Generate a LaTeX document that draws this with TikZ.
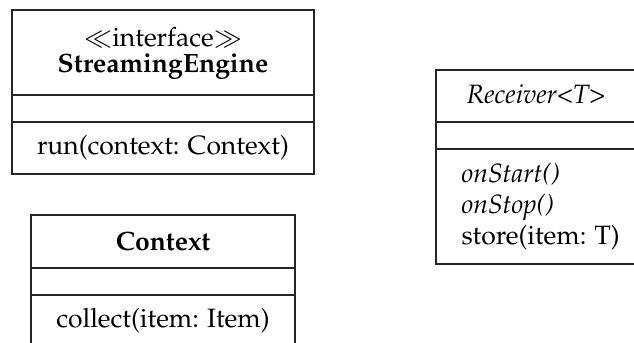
\documentclass[tikz,border=0pt]{standalone}
\IfFileExists{mathpazo.sty}{\usepackage[T1]{fontenc}\usepackage{mathpazo}}{\usepackage{fontspec}\setmainfont{Liberation Serif}}
\begin{document}
\begin{tikzpicture}[x=0.4pt,y=-0.4pt,
  box/.style={draw=black!85,line width=0.45pt},
  txt/.style={inner sep=0pt,font=\fontsize{10.6}{12.7}\selectfont}]
\useasboundingbox (0,0) rectangle (634,342);
\clip (0,0) rectangle (634,342);

% StreamingEngine
\draw[box] (12,10) rectangle (314,174);
\draw[box] (12,95) -- (314,95);
\draw[box] (12,122) -- (314,122);
\node[txt] (se-stereo) at (163,37) {$\ll$interface$\gg$};
\node[txt] (se-name) at (163,67) {\textbf{StreamingEngine}};
\node[txt] (se-run) at (163,148) {run(context: Context)};

% Context
\draw[box] (31,215) rectangle (295,360);
\draw[box] (31,268) -- (295,268);
\draw[box] (31,295) -- (295,295);
\node[txt] (ctx-name) at (163,241) {\textbf{Context}};
\node[txt] (ctx-collect) at (163,321) {collect(item: Item)};

% Receiver<T>
\draw[box] (436,70) rectangle (645,264);
\draw[box] (436,122) -- (645,122);
\draw[box] (436,149) -- (645,149);
\node[txt] (rc-name) at (536,94) {\textit{Receiver<T>}};
\node[txt,anchor=base west] (rc-start) at (461,182) {\textit{onStart()}};
\node[txt,anchor=base west] (rc-stop) at (461,213) {\textit{onStop()}};
\node[txt,anchor=base west] (rc-store) at (461,244) {store(item: T)};
\end{tikzpicture}
\end{document}
